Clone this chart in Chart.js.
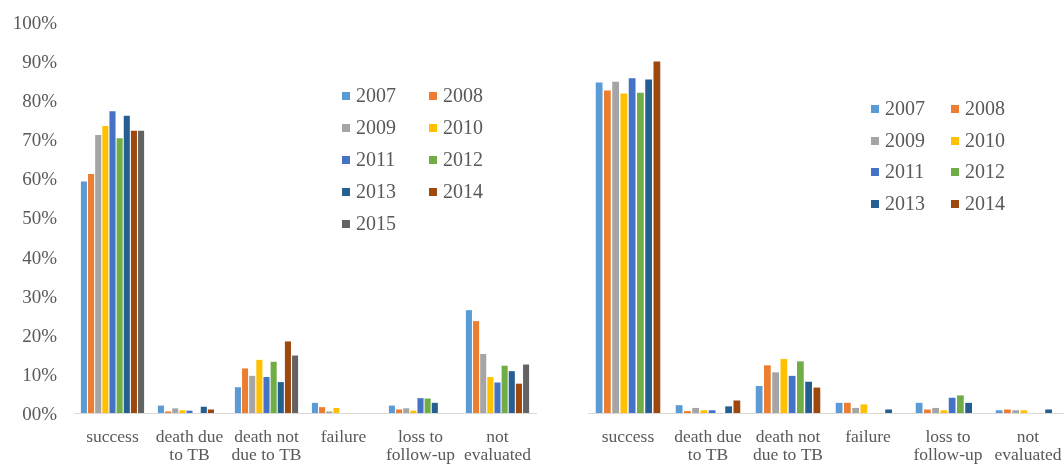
<!DOCTYPE html>
<html>
<head>
<meta charset="utf-8">
<script src="https://cdn.jsdelivr.net/npm/chart.js@4"></script>
<style>
  html, body { margin: 0; padding: 0; background: #fff; }
  #wrap { position: relative; width: 1064px; height: 464px; overflow: hidden; }
  #left { position: absolute; left: 0; top: 0; width: 560px; height: 464px; }
  #right { position: absolute; left: 560px; top: 0; width: 520px; height: 464px; }
  .legend { position: absolute; font-family: "Liberation Serif", "Times New Roman", serif; font-size: 20px; color: #595959; }
  .legend .item { position: absolute; white-space: nowrap; line-height: 20px; }
  .legend .sw { display: inline-block; width: 8px; height: 8px; margin-right: 6px; vertical-align: 2px; }
</style>
</head>
<body>
<div id="wrap">
  <div id="left"><canvas id="c1"></canvas></div>
  <div id="right"><canvas id="c2"></canvas></div>
  <div id="leg1" class="legend" style="left:342px; top:85px;"></div>
  <div id="leg2" class="legend" style="left:871px; top:98px;"></div>
</div>
<script>
// Treatment outcome categories
const categories = [
  'success',
  ['death due', 'to TB'],
  ['death not', 'due to TB'],
  'failure',
  ['loss to', 'follow-up'],
  ['not', 'evaluated']
];

const yearsLeft = ['2007', '2008', '2009', '2010', '2011', '2012', '2013', '2014', '2015'];
const yearsRight = ['2007', '2008', '2009', '2010', '2011', '2012', '2013', '2014'];

const yearColors = ['#5B9BD5', '#ED7D31', '#A5A5A5', '#FFC000', '#4472C4', '#70AD47', '#255E91', '#9E480E', '#636363'];

const yTickLabels = ['00%', '10%', '20%', '30%', '40%', '50%', '60%', '70%', '80%', '90%', '100%'];

// Left panel: share of patients (%) per outcome, one array per year
const left2007 = [59.2, 1.9, 6.6, 2.6, 1.9, 26.3];
const left2008 = [61.1, 0.4, 11.4, 1.5, 0.9, 23.5];
const left2009 = [71.1, 1.2, 9.5, 0.4, 1.2, 15.1];
const left2010 = [73.4, 0.7, 13.6, 1.3, 0.6, 9.2];
const left2011 = [77.2, 0.6, 9.2, 0, 3.8, 7.8];
const left2012 = [70.3, 0, 13.1, 0, 3.7, 12.1];
const left2013 = [76.0, 1.6, 7.9, 0, 2.6, 10.7];
const left2014 = [72.2, 0.9, 18.3, 0, 0, 7.5];
const left2015 = [72.2, 0, 14.7, 0, 0, 12.4];

// Right panel: share of patients (%) per outcome, one array per year
const right2007 = [84.5, 2.0, 6.9, 2.6, 2.6, 0.7];
const right2008 = [82.5, 0.5, 12.2, 2.6, 0.9, 0.9];
const right2009 = [84.7, 1.3, 10.4, 1.3, 1.3, 0.7];
const right2010 = [81.7, 0.7, 13.8, 2.2, 0.7, 0.7];
const right2011 = [85.6, 0.7, 9.5, 0, 3.9, 0];
const right2012 = [81.9, 0, 13.2, 0, 4.5, 0];
const right2013 = [85.3, 1.7, 8.0, 0.9, 2.6, 0.9];
const right2014 = [89.9, 3.2, 6.5, 0, 0, 0];

const leftSeries = [left2007, left2008, left2009, left2010, left2011, left2012, left2013, left2014, left2015];
const rightSeries = [right2007, right2008, right2009, right2010, right2011, right2012, right2013, right2014];

const textColor = '#595959';
const serif = '"Liberation Serif", "Times New Roman", serif';

function makeDatasets(years, series, barPct, catPct) {
  return years.map((y, i) => ({
    label: y,
    data: series[i],
    backgroundColor: yearColors[i],
    borderWidth: 0,
    barPercentage: barPct,
    categoryPercentage: catPct
  }));
}

function xScale() {
  return {
    grid: { display: false, drawTicks: false },
    border: { display: true, color: '#d9d9d9', width: 1 },
    ticks: {
      color: textColor,
      font: { family: serif, size: 17.5, lineHeight: 1.05 },
      padding: 15,
      maxRotation: 0,
      autoSkip: false
    },
    afterFit: (s) => { s.height = 51; }
  };
}

function yScale(show) {
  return {
    display: show,
    min: 0,
    max: 100,
    grid: { display: false, drawTicks: false },
    border: { display: false },
    ticks: {
      stepSize: 10,
      color: textColor,
      font: { family: serif, size: 19 },
      padding: 17,
      labelOffset: 2,
      callback: (v, idx) => yTickLabels[idx]
    },
    afterFit: (s) => {
      s.width = show ? 74 : 0;
      // keep the plot top set by the layout padding alone
      s.paddingTop = 0;
      s.paddingBottom = 0;
    }
  };
}

function baseOptions(showY, padding) {
  return {
    responsive: true,
    maintainAspectRatio: false,
    animation: false,
    layout: { padding: padding },
    plugins: { legend: { display: false }, tooltip: { enabled: false } },
    scales: { x: xScale(), y: yScale(showY) }
  };
}

new Chart(document.getElementById('c1'), {
  type: 'bar',
  data: { labels: categories, datasets: makeDatasets(yearsLeft, leftSeries, 0.85, 0.835) },
  options: baseOptions(true, { top: 22, right: 24, left: 0, bottom: 0 })
});

new Chart(document.getElementById('c2'), {
  type: 'bar',
  data: { labels: categories, datasets: makeDatasets(yearsRight, rightSeries, 0.82, 0.825) },
  options: baseOptions(false, { top: 22, right: 12, left: 28, bottom: 0 })
});

// Two-column legends built from the year lists
function buildLegend(el, years, colGap, rowGap) {
  years.forEach((y, i) => {
    const item = document.createElement('div');
    item.className = 'item';
    item.style.left = (i % 2) * colGap + 'px';
    item.style.top = Math.floor(i / 2) * rowGap + 'px';
    const sw = document.createElement('span');
    sw.className = 'sw';
    sw.style.background = yearColors[i];
    item.appendChild(sw);
    item.appendChild(document.createTextNode(y));
    el.appendChild(item);
  });
}
buildLegend(document.getElementById('leg1'), yearsLeft, 87, 32);
buildLegend(document.getElementById('leg2'), yearsRight, 80, 31.7);
</script>
</body>
</html>
